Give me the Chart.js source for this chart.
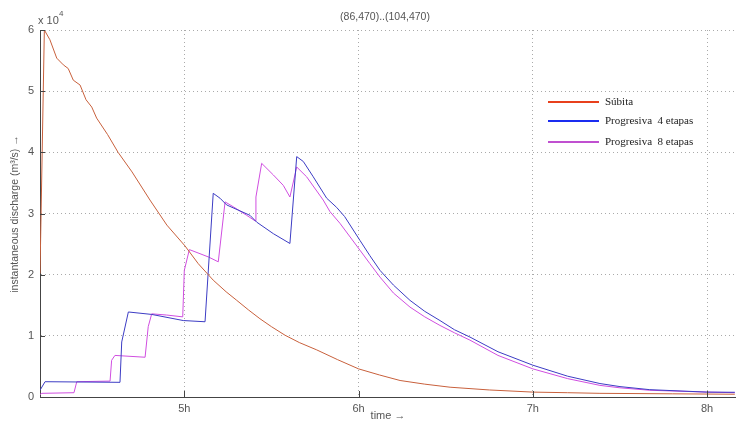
<!DOCTYPE html>
<html>
<head>
<meta charset="utf-8">
<script src="https://cdn.jsdelivr.net/npm/chart.js@4/dist/chart.umd.min.js"></script>
<style>
  body { margin: 0; background: #fff; }
  #wrap { width: 744px; height: 423px; }
</style>
</head>
<body>
<div id="wrap"><canvas id="dischargeChart" width="744" height="423"></canvas></div>
<script>
// time in hours, discharge in m3/s
const subitaTime = [4.172, 4.197, 4.229, 4.268, 4.306, 4.334, 4.363, 4.402, 4.436, 4.469, 4.497, 4.560, 4.620, 4.700, 4.803, 4.900, 5.004, 5.080, 5.166, 5.240, 5.301, 5.370, 5.434, 5.500, 5.578, 5.660, 5.760, 5.880, 6.000, 6.120, 6.238, 6.380, 6.525, 6.750, 7.000, 7.200, 7.385, 7.800, 8.159];
const subitaFlow = [20200, 60000, 58400, 55400, 54300, 53700, 51800, 51000, 48600, 47400, 45600, 42900, 40000, 36800, 32200, 28100, 24700, 21800, 19100, 17200, 15800, 14200, 12800, 11500, 10100, 8900, 7700, 6100, 4600, 3600, 2700, 2100, 1600, 1150, 800, 700, 600, 520, 450];

const prog4Time = [4.172, 4.201, 4.631, 4.641, 4.679, 4.813, 4.994, 5.119, 5.166, 5.205, 5.243, 5.377, 5.415, 5.511, 5.606, 5.645, 5.683, 5.740, 5.817, 5.874, 5.920, 6.008, 6.065, 6.123, 6.200, 6.295, 6.380, 6.467, 6.550, 6.639, 6.800, 7.000, 7.200, 7.385, 7.500, 7.671, 7.999, 8.159];
const prog4Flow = [1100, 2500, 2400, 9000, 13900, 13500, 12500, 12300, 33300, 32500, 31400, 29700, 28600, 26700, 25100, 39300, 38500, 36000, 32500, 31000, 29500, 25600, 23100, 20700, 18300, 15800, 14000, 12500, 11000, 9800, 7400, 5200, 3400, 2200, 1700, 1200, 800, 770];

const prog8Time = [4.172, 4.182, 4.367, 4.383, 4.574, 4.583, 4.602, 4.775, 4.793, 4.813, 4.899, 4.991, 5.000, 5.029, 5.138, 5.195, 5.234, 5.281, 5.358, 5.406, 5.411, 5.444, 5.511, 5.568, 5.606, 5.645, 5.702, 5.797, 5.836, 5.893, 6.008, 6.065, 6.123, 6.200, 6.295, 6.380, 6.467, 6.550, 6.639, 6.800, 7.000, 7.200, 7.385, 7.500, 7.671, 7.999, 8.159];
const prog8Flow = [400, 600, 700, 2500, 2600, 6000, 6800, 6500, 11500, 13600, 13400, 13100, 20700, 24100, 22900, 22100, 31900, 31100, 29700, 28800, 32700, 38200, 36300, 34600, 32700, 37600, 36000, 32200, 30300, 28400, 24000, 21800, 19600, 17000, 14700, 13100, 11700, 10500, 9300, 6800, 4600, 3000, 1900, 1500, 1100, 800, 700];

const xTicks = [5, 6, 7, 8];
const yTicks = [0, 10000, 20000, 30000, 40000, 50000, 60000];

const seriesNames = ['Súbita', 'Progresiva  4 etapas', 'Progresiva  8 etapas'];
const lineColors = ['#c8603c', '#3c3cc4', '#d04ee0'];
const legendColors = ['#e8401c', '#1a2cf0', '#c050d0'];

function toPoints(ts, qs) {
  return ts.map((t, i) => ({ x: t, y: qs[i] }));
}

const axisColor = '#444';
const labelFont = 'Liberation Sans, Arial, sans-serif';

const extras = {
  id: 'extras',
  afterDraw(chart) {
    const ctx = chart.ctx;
    const area = chart.chartArea;
    const xs = chart.scales.x;
    const ys = chart.scales.y;
    ctx.save();
    // inner tick marks
    ctx.strokeStyle = axisColor;
    ctx.lineWidth = 1;
    ctx.beginPath();
    yTicks.forEach((v) => {
      const py = Math.round(ys.getPixelForValue(v)) + 0.5;
      ctx.moveTo(area.left, py);
      ctx.lineTo(area.left + 5, py);
    });
    xTicks.forEach((v) => {
      const px = Math.round(xs.getPixelForValue(v)) + 0.5;
      ctx.moveTo(px, area.bottom);
      ctx.lineTo(px, area.bottom - 6);
    });
    ctx.stroke();

    // texts
    ctx.fillStyle = '#555';
    ctx.font = '10.5px ' + labelFont;
    ctx.textAlign = 'center';
    ctx.textBaseline = 'middle';
    ctx.fillText('(86,470)..(104,470)', 385, 17);
    ctx.font = '11px ' + labelFont;
    ctx.fillText('time \u2192', 388, 416);

    ctx.textAlign = 'left';
    ctx.fillText('x 10', 38, 21);
    ctx.font = '8px ' + labelFont;
    ctx.fillText('4', 59, 14);

    ctx.font = '10.5px ' + labelFont;
    ctx.translate(15, 214);
    ctx.rotate(-Math.PI / 2);
    ctx.textAlign = 'center';
    ctx.fillText('instantaneous discharge (m\u00B3/s) \u2192', 0, 0);
    ctx.restore();

    // legend
    ctx.save();
    const rows = [102, 121, 142];
    ctx.font = '11px Liberation Serif, Times New Roman, serif';
    ctx.textBaseline = 'middle';
    ctx.textAlign = 'left';
    rows.forEach((y, i) => {
      ctx.strokeStyle = legendColors[i];
      ctx.lineWidth = 2;
      ctx.beginPath();
      ctx.moveTo(548, y);
      ctx.lineTo(599, y);
      ctx.stroke();
      ctx.fillStyle = '#222';
      ctx.fillText(seriesNames[i], 605, y);
    });
    ctx.restore();
  }
};

const ctx = document.getElementById('dischargeChart').getContext('2d');
const dischargeChart = new Chart(ctx, {
  type: 'line',
  data: {
    datasets: [
      { label: seriesNames[0], data: toPoints(subitaTime, subitaFlow), borderColor: lineColors[0] },
      { label: seriesNames[1], data: toPoints(prog4Time, prog4Flow), borderColor: lineColors[1] },
      { label: seriesNames[2], data: toPoints(prog8Time, prog8Flow), borderColor: lineColors[2] },
    ],
  },
  options: {
    responsive: false,
    animation: false,
    events: [],
    layout: { padding: { top: 30, right: 9, left: 0, bottom: 0 } },
    elements: {
      line: { borderWidth: 1, tension: 0, fill: false },
      point: { radius: 0 },
    },
    plugins: {
      legend: { display: false },
      title: { display: false },
      tooltip: { enabled: false },
    },
    scales: {
      x: {
        type: 'linear',
        min: 4.172,
        max: 8.16,
        afterBuildTicks: (scale) => { scale.ticks = xTicks.map((v) => ({ value: v })); },
        afterFit: (scale) => { scale.height = 26; },
        ticks: {
          callback: (v) => v + 'h',
          color: '#555',
          font: { size: 11, family: labelFont },
          padding: 5,
          maxRotation: 0,
        },
        grid: { color: '#aaa', lineWidth: 1, drawTicks: false },
        border: { display: true, color: axisColor, width: 1, dash: [1, 3] },
      },
      y: {
        min: 0,
        max: 60000,
        afterBuildTicks: (scale) => { scale.ticks = yTicks.map((v) => ({ value: v })); },
        afterFit: (scale) => { scale.width = 40; },
        ticks: {
          callback: (v) => v / 10000,
          color: '#555',
          font: { size: 11, family: labelFont },
          padding: 6,
        },
        grid: { color: '#aaa', lineWidth: 1, drawTicks: false },
        border: { display: true, color: axisColor, width: 1, dash: [1, 3] },
      },
    },
  },
  plugins: [extras],
});
</script>
</body>
</html>
